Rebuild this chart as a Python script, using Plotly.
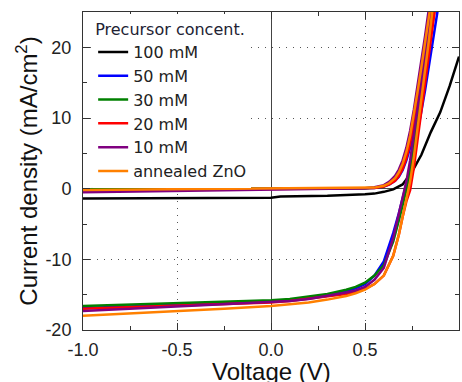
import plotly.graph_objects as go

# ---------------- data ----------------
series_names = ["100 mM", "50 mM", "30 mM", "20 mM", "10 mM", "annealed ZnO"]
series_colors = ["#000000", "#0000ff", "#008000", "#ff0000", "#800080", "#ff8000"]

# 100 mM (single curve)
v_black = [-1.0, -0.5, 0.0, 0.05, 0.3, 0.5, 0.55, 0.6, 0.65, 0.7, 0.75, 0.8, 0.85, 0.9, 0.95, 1.0]
j_black = [-1.4, -1.35, -1.3, -1.1, -1.0, -0.8, -0.7, -0.45, -0.1, 0.6, 2.4, 4.8, 8.0, 10.8, 14.5, 18.7]

# illuminated curves
v_light = [-1.0, -0.75, -0.5, -0.25, 0.0, 0.1, 0.2, 0.3, 0.4, 0.45, 0.5, 0.55, 0.6,
           0.65, 0.68, 0.7, 0.72, 0.74, 0.76, 0.78, 0.8, 0.82, 0.84, 0.86, 0.88, 0.9]
j_light_50 = [-16.9, -16.7, -16.5, -16.3, -16.0, -15.8, -15.5, -15.1, -14.5, -14.1, -13.5, -12.3, -10.3,
              -6.3, -3.5, -1.5, 0.5, 2.8, 5.3, 8.0, 11.0, 14.0, 17.2, 20.5, 24.0, 27.5]
j_light_30 = [-16.6, -16.4, -16.3, -16.1, -15.8, -15.6, -15.3, -14.9, -14.3, -13.9, -13.3, -12.3, -10.8,
              -7.5, -4.5, -2.3, -0.2, 2.5, 5.8, 9.5, 13.5, 17.5, 21.5, 25.5, 29.0, 32.0]
j_light_20 = [-17.0, -16.8, -16.6, -16.4, -16.1, -15.9, -15.6, -15.3, -14.9, -14.6, -14.2, -13.5, -12.3,
              -9.5, -6.5, -4.0, -1.8, -0.2, 3.0, 7.0, 11.0, 15.0, 19.0, 23.0, 27.0, 31.0]
j_light_10 = [-17.3, -17.0, -16.7, -16.4, -16.1, -15.9, -15.6, -15.2, -14.7, -14.4, -13.9, -12.9, -11.2,
              -7.0, -3.5, -1.2, 1.0, 4.0, 7.5, 11.0, 15.0, 19.0, 23.5, 28.0, 32.0, 36.0]
j_light_zno = [-18.0, -17.7, -17.4, -17.0, -16.6, -16.4, -16.1, -15.7, -15.2, -14.8, -14.3, -13.5, -12.3,
               -9.5, -6.5, -4.0, -1.5, 1.0, 4.5, 8.5, 12.5, 16.5, 21.0, 25.5, 30.0, 34.0]

# dark curves
v_dark = [-1.0, -0.75, -0.5, -0.25, 0.0, 0.25, 0.5, 0.55, 0.6, 0.63, 0.66,
          0.68, 0.7, 0.72, 0.74, 0.76, 0.78, 0.8, 0.82, 0.84, 0.86, 0.88]
j_dark_50 = [-0.15, -0.12, -0.1, -0.08, -0.05, 0.0, 0.04, 0.1, 0.3, 0.6, 1.1,
             1.7, 2.6, 4.0, 5.8, 8.2, 11.0, 14.0, 17.0, 20.2, 23.5, 27.0]
j_dark_30 = [-0.1, -0.08, -0.06, -0.05, -0.03, 0.0, 0.05, 0.12, 0.35, 0.7, 1.3,
             2.0, 3.0, 4.6, 6.8, 9.5, 12.6, 16.0, 19.5, 23.0, 26.8, 30.5]
j_dark_20 = [-0.3, -0.25, -0.2, -0.15, -0.1, 0.0, 0.04, 0.1, 0.3, 0.6, 1.1,
             1.8, 2.8, 4.3, 6.4, 9.0, 12.0, 15.2, 18.6, 22.2, 26.0, 29.8]
j_dark_10 = [-0.5, -0.4, -0.3, -0.2, -0.1, 0.0, 0.05, 0.2, 0.5, 1.0, 1.8,
             2.7, 4.0, 5.8, 8.2, 11.2, 14.5, 18.0, 21.7, 25.5, 29.5, 33.0]
j_dark_zno = [-0.2, -0.15, -0.12, -0.1, -0.05, 0.0, 0.05, 0.15, 0.4, 0.8, 1.5,
              2.3, 3.5, 5.2, 7.5, 10.5, 13.8, 17.2, 20.8, 24.5, 28.0, 31.5]

x_ticks = [-1.0, -0.5, 0.0, 0.5, 1.0]
x_tick_labels = ["-1.0", "-0.5", "0.0", "0.5", "1.0"]
y_ticks = [-20, -10, 0, 10, 20]
y_tick_labels = ["-20", "-10", "0", "10", "20"]
x_title = "Voltage (V)"
y_title = "Current density (mA/cm<sup>2</sup>)"

# ---------------- figure ----------------
fig = go.Figure()
LW = 2.5

fig.add_trace(go.Scatter(x=v_black, y=j_black, mode="lines", name=series_names[0],
                         line=dict(color=series_colors[0], width=LW), legendgroup="g0"))

pairs = [(j_light_50, j_dark_50), (j_light_30, j_dark_30), (j_light_20, j_dark_20),
         (j_light_10, j_dark_10), (j_light_zno, j_dark_zno)]
for i, (jl, jd) in enumerate(pairs, start=1):
    fig.add_trace(go.Scatter(x=v_light, y=jl, mode="lines", name=series_names[i],
                             line=dict(color=series_colors[i], width=LW), legendgroup=f"g{i}"))
    fig.add_trace(go.Scatter(x=v_dark, y=jd, mode="lines", name=series_names[i], showlegend=False,
                             line=dict(color=series_colors[i], width=LW), legendgroup=f"g{i}"))

axis_common = dict(
    showline=True, linecolor="#333333", linewidth=1, mirror="allticks",
    ticks="inside", ticklen=7, tickcolor="#333333", tickwidth=1,
    showgrid=True, gridcolor="#555555", gridwidth=1, griddash="1px,6px",
    zeroline=True, zerolinecolor="#444444", zerolinewidth=1,
    automargin=False,
    tickfont=dict(family="Arial", size=18, color="#222222"),
    title_font=dict(family="Arial", size=24, color="#111111"),
)

fig.update_xaxes(range=[-1.0, 1.0], tickmode="array", tickvals=x_ticks, ticktext=x_tick_labels,
                 minor=dict(ticks="inside", ticklen=4, dtick=0.25, tick0=0, tickcolor="#333333", showgrid=False),
                 ticklabelstandoff=3, **axis_common)
fig.update_yaxes(range=[-20, 25], tickmode="array", tickvals=y_ticks, ticktext=y_tick_labels,
                 minor=dict(ticks="inside", ticklen=4, dtick=5, tick0=0, tickcolor="#333333", showgrid=False),
                 ticklabelstandoff=7,
                 title_text=y_title, title_standoff=0, **axis_common)

# x-axis title placed as an annotation so it can sit at the bottom edge, as in the original
fig.add_annotation(text=x_title, xref="paper", yref="paper", x=0.5, y=-0.132,
                   xanchor="center", yanchor="middle", showarrow=False,
                   font=dict(family="Arial", size=24, color="#111111"))

fig.update_layout(
    width=462, height=382,
    margin=dict(l=83, r=3, t=12, b=52),
    paper_bgcolor="white", plot_bgcolor="white",
    showlegend=True,
    legend=dict(
        x=0.027, y=0.993, xanchor="left", yanchor="top",
        bgcolor="white", borderwidth=0,
        font=dict(family="DejaVu Sans", size=16, color="#222222"),
        title=dict(text="Precursor concent.", font=dict(family="DejaVu Sans", size=16, color="#222233")),
        tracegroupgap=0,
    ),
)

fig.write_html("out.html", config={"displayModeBar": False},
               post_script="document.body.style.margin='0';")
